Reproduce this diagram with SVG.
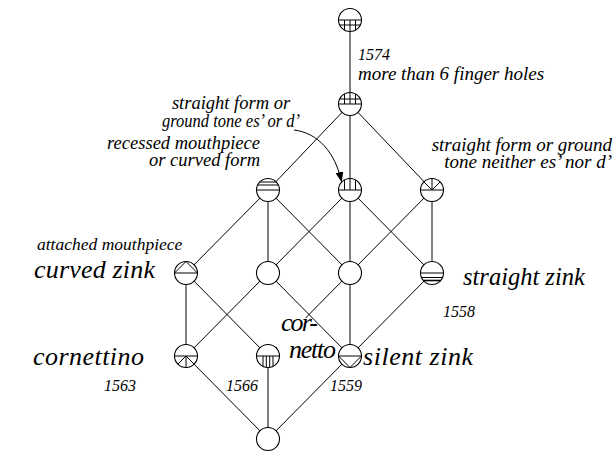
<svg xmlns="http://www.w3.org/2000/svg" width="613" height="469" viewBox="0 0 613 469">
  <style>
    .edge { stroke: #000; stroke-width: 1; fill: none; }
    .node circle { fill: #fff; stroke: #000; stroke-width: 1.1; }
    .node path { stroke: #000; stroke-width: 1; fill: none; }
    .lbl { font-family: "Liberation Serif", "Times New Roman", serif; font-style: italic; fill: #000; }
    .s { font-size: 18.5px; }
    .y { font-size: 16px; }
    .b { font-size: 26px; }
    .r { text-anchor: end; }
    .c { text-anchor: middle; }
    .arrow { stroke: #000; stroke-width: 1; fill: none; }
  </style>
  <defs>
    <marker id="head" viewBox="0 0 10 8" refX="9.5" refY="4" markerWidth="10" markerHeight="8" markerUnits="userSpaceOnUse" orient="auto">
      <path d="M0,0 L10,4 L0,8 z" fill="#000"/>
    </marker>
  </defs>

  <!-- connectors (center to center; nodes are painted over them) -->
  <g id="edges" class="edge">
    <line x1="350" y1="20" x2="350" y2="104"/>
    <line x1="350" y1="104" x2="268" y2="190"/>
    <line x1="350" y1="104" x2="350" y2="190"/>
    <line x1="350" y1="104" x2="432" y2="190"/>
    <line x1="268" y1="190" x2="186" y2="273"/>
    <line x1="268" y1="190" x2="268" y2="273"/>
    <line x1="268" y1="190" x2="350" y2="273"/>
    <line x1="350" y1="190" x2="268" y2="273"/>
    <line x1="350" y1="190" x2="350" y2="273"/>
    <line x1="350" y1="190" x2="432" y2="273"/>
    <line x1="432" y1="190" x2="350" y2="273"/>
    <line x1="432" y1="190" x2="432" y2="273"/>
    <line x1="186" y1="273" x2="186" y2="356"/>
    <line x1="186" y1="273" x2="268" y2="356"/>
    <line x1="268" y1="273" x2="186" y2="356"/>
    <line x1="268" y1="273" x2="350" y2="356"/>
    <line x1="350" y1="273" x2="268" y2="356"/>
    <line x1="350" y1="273" x2="350" y2="356"/>
    <line x1="432" y1="273" x2="350" y2="356"/>
    <line x1="186" y1="356" x2="268" y2="439"/>
    <line x1="268" y1="356" x2="268" y2="439"/>
    <line x1="350" y1="356" x2="268" y2="439"/>
  </g>

  <!-- the cornetto label sits on a white patch that hides the edge beneath it -->
  <g id="label-cornetto">
    <polygon points="277,318 310,318 337,345 337,363 277,363" fill="#fff"/>
    <text class="lbl b" x="281" y="331" textLength="37">cor-</text>
    <text class="lbl b" x="289" y="358" textLength="47">netto</text>
  </g>

  <!-- concept nodes -->
  <g id="n-top" class="node" transform="translate(350,20)">
    <circle r="11.5"/>
    <path d="M-11.5,0H11.5M-10.4,5H10.4M-5.5,0V10.1M0,0V11.5M5.5,0V10.1"/>
  </g>
  <g id="n-holes" class="node" transform="translate(350,104)">
    <circle r="11.5"/>
    <path d="M-11.5,0H11.5M-10.4,-5H10.4M-5.5,0V-10.1M0,0V-11.5M5.5,0V-10.1"/>
  </g>
  <g id="n-recessed" class="node" transform="translate(268,190)">
    <circle r="11.5"/>
    <path d="M-11.5,0H11.5M-10.4,-5H10.4M-8.3,-8H8.3"/>
  </g>
  <g id="n-esd" class="node" transform="translate(350,190)">
    <circle r="11.5"/>
    <path d="M-11.5,0H11.5M-5.5,0V-10.1M0,0V-11.5M5.5,0V-10.1"/>
  </g>
  <g id="n-noesd" class="node" transform="translate(432,190)">
    <circle r="11.5"/>
    <path d="M-11.5,0H11.5M0,0L8.1,-8.1M0,0V-11.5M0,0L-8.1,-8.1"/>
  </g>
  <g id="n-curved" class="node" transform="translate(186,273)">
    <circle r="11.5"/>
    <path d="M-11.5,0H11.5M-11.5,0L0,-11.5L11.5,0"/>
  </g>
  <g id="n-e" class="node" transform="translate(268,273)">
    <circle r="11.5"/>
  </g>
  <g id="n-f" class="node" transform="translate(350,273)">
    <circle r="11.5"/>
  </g>
  <g id="n-straight" class="node" transform="translate(432,273)">
    <circle r="11.5"/>
    <path d="M-11.5,0H11.5M-10.6,4.5H10.6"/>
    <path d="M-8.7,7.5H8.7" style="stroke-width:1.6"/>
  </g>
  <g id="n-cornettino" class="node" transform="translate(186,356)">
    <circle r="11.5"/>
    <path d="M-11.5,0H11.5M0,0L8.1,8.1M0,0V11.5M0,0L-8.1,8.1"/>
  </g>
  <g id="n-cornetto" class="node" transform="translate(268,356)">
    <circle r="11.5"/>
    <path d="M-11.5,0H11.5M-5,0V10.4M-1.7,0V11.4M1.7,0V11.4M5,0V10.4"/>
  </g>
  <g id="n-silent" class="node" transform="translate(350,356)">
    <circle r="11.5"/>
    <path d="M-11.5,0H11.5M-11.5,0L0,11.5L11.5,0"/>
  </g>
  <g id="n-bottom" class="node" transform="translate(268,439)">
    <circle r="11.5"/>
  </g>

  <!-- pointer from the attribute label to its concept -->
  <path id="pointer" class="arrow" d="M294,130 C318,133 335,152 341.5,181.5" marker-end="url(#head)"/>

  <!-- attribute and object labels -->
  <g id="labels">
    <text class="lbl y" x="358" y="60">1574</text>
    <text class="lbl s" x="358" y="80" style="font-size:19px">more than 6 finger holes</text>
    <text class="lbl s c" x="231" y="109">straight form or</text>
    <text class="lbl s c" x="231" y="127" textLength="138" lengthAdjust="spacingAndGlyphs">ground tone es’ or d’</text>
    <text class="lbl s r" x="260" y="149">recessed mouthpiece</text>
    <text class="lbl s r" x="260" y="166">or curved form</text>
    <text class="lbl s r" x="612" y="151" style="font-size:19px">straight form or ground</text>
    <text class="lbl s r" x="612" y="168" style="font-size:19px">tone neither es’ nor d’</text>
    <text class="lbl s" x="37" y="250" style="font-size:17.5px">attached mouthpiece</text>
    <text class="lbl b" x="34" y="278" textLength="121">curved zink</text>
    <text class="lbl b" x="463" y="285" style="font-size:24.5px">straight zink</text>
    <text class="lbl y" x="443" y="317">1558</text>
    <text class="lbl b" x="33" y="365" textLength="111">cornettino</text>
    <text class="lbl y" x="104" y="391">1563</text>
    <text class="lbl b" x="363" y="365" textLength="110">silent zink</text>
    <text class="lbl y" x="226" y="391">1566</text>
    <text class="lbl y" x="330" y="391">1559</text>
  </g>
</svg>
